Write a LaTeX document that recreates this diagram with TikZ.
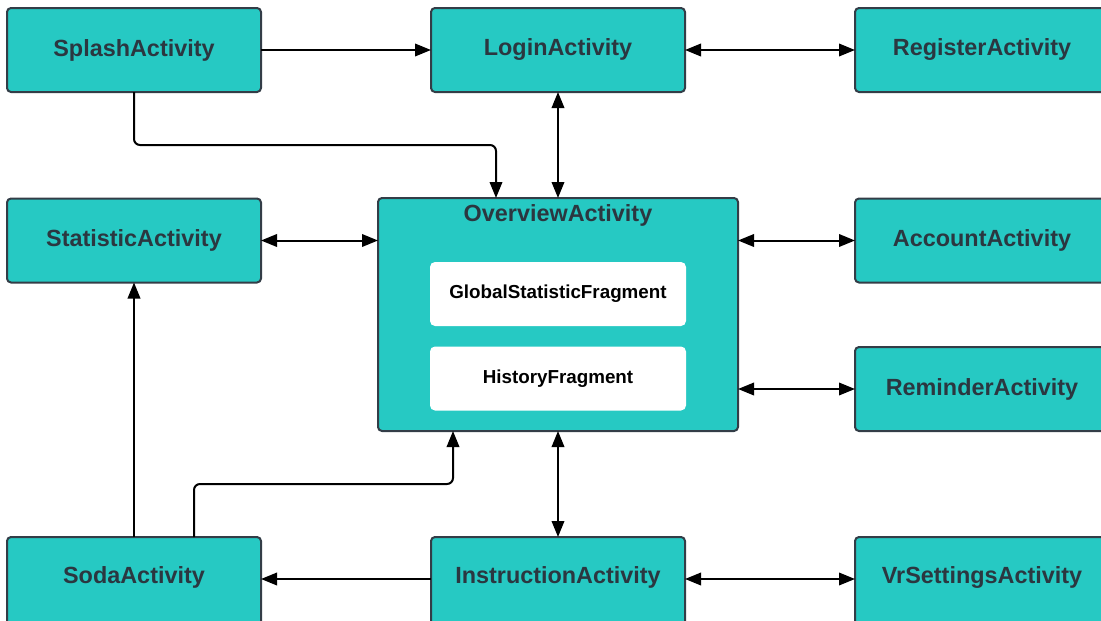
\documentclass[tikz,border=0pt]{standalone}
\usepackage{fontspec}
\setmainfont{Liberation Sans}
\usetikzlibrary{arrows.meta}
\definecolor{teal1}{HTML}{26C9C3}
\definecolor{bord}{HTML}{333D47}
\definecolor{txt}{HTML}{2B3740}
\tikzset{
  act/.style={draw=bord, line width=2pt, fill=teal1, rounded corners=4pt,
    minimum width=254pt, minimum height=84pt, inner sep=0pt, outer sep=0pt,
    font=\fontsize{23.4}{28}\selectfont\bfseries, text=txt},
  acttext/.style={font=\fontsize{23.4}{28}\selectfont\bfseries, text=txt},
  frag/.style={fill=white, rounded corners=5pt, minimum width=256pt,
    minimum height=64pt, inner sep=0pt,
    font=\fontsize{18.8}{23}\selectfont\bfseries, text=black},
  conn/.style={line width=2pt, black, rounded corners=6pt},
  tip/.tip={Triangle[length=16pt,width=12.5pt]},
  one/.style={conn, -tip},
  two/.style={conn, tip-tip}
}
\begin{document}
\begin{tikzpicture}[x=1pt,y=-1pt]
\useasboundingbox (0,0) rectangle (1101,621);
\clip (0,0) rectangle (1101,621);
\node[act] (splash) at (134,50) {SplashActivity};
\node[act] (login) at (558,50) {LoginActivity};
\node[act] (register) at (982,50) {RegisterActivity};
\node[act] (stat) at (134,240.5) {StatisticActivity};
\node[act, minimum width=360pt, minimum height=233pt] (over) at (558,314.5) {};
\node[acttext] (overt) at (558,215) {OverviewActivity};
\node[frag] (glob) at (558,294) {GlobalStatisticFragment};
\node[frag] (hist) at (558,378.5) {HistoryFragment};
\node[act] (account) at (982,240.5) {AccountActivity};
\node[act] (remind) at (982,389) {ReminderActivity};
\node[act, minimum height=90pt] (soda) at (134,582) {};
\node[acttext] (sodat) at (134,577.5) {SodaActivity};
\node[act, minimum height=90pt] (instr) at (558,582) {};
\node[acttext] (instrt) at (558,577.5) {InstructionActivity};
\node[act, minimum height=90pt] (vr) at (982,582) {};
\node[acttext] (vrt) at (982,577.5) {VrSettingsActivity};

\draw[one] (splash.east) -- (login.west);
\draw[two] (login.east) -- (register.west);
\draw[two] (login.south) -- (over.north);
\draw[one] (splash.south) |- (496,145) -- (over.north -| 496,0);
\draw[two] (stat.east) -- (stat.east -| over.west);
\draw[two] (over.east |- account.west) -- (account.west);
\draw[two] (over.east |- remind.west) -- (remind.west);
\draw[two] (over.south) -- (instr.north);
\draw[one] (soda.north -| stat.south) -- (stat.south);
\draw[one] (soda.north -| 194,0) |- (300,484) -| (over.south -| 453,0);
\draw[one] (instr.west |- 0,579) -- (soda.east |- 0,579);
\draw[two] (instr.east |- 0,579) -- (vr.west |- 0,579);
\end{tikzpicture}
\end{document}
